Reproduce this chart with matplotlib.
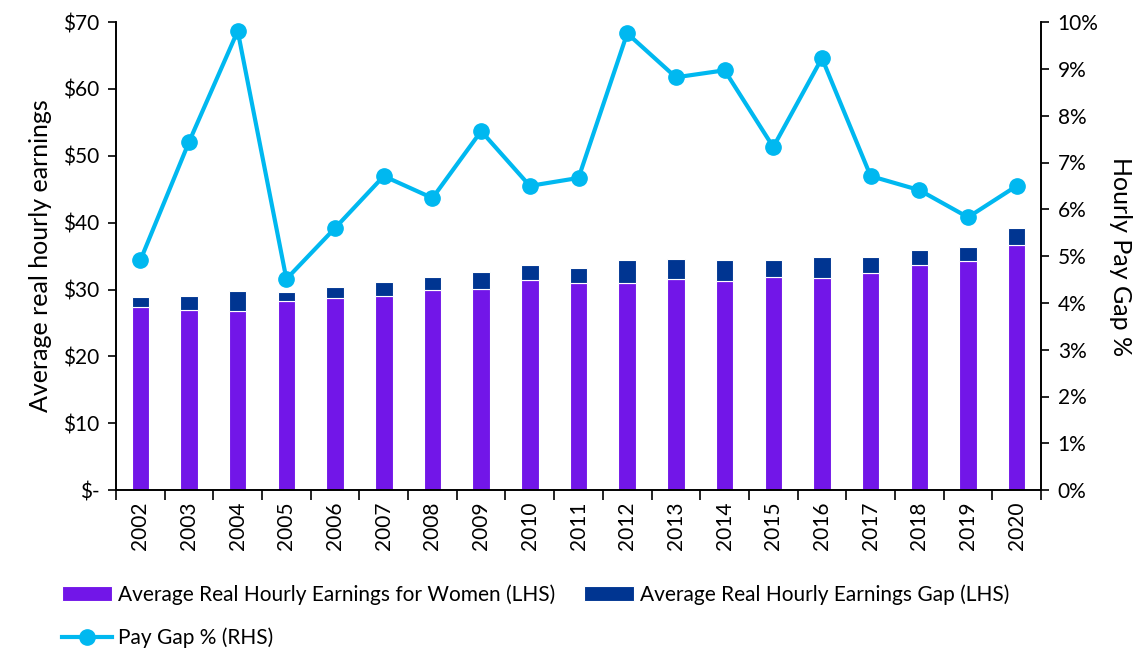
import matplotlib
matplotlib.use("Agg")
import matplotlib.pyplot as plt
import numpy as np
from matplotlib.ticker import FuncFormatter, FixedLocator

plt.rcParams["font.family"] = ["Lato", "DejaVu Sans"]

YEARS = [str(y) for y in range(2002, 2021)]
WOMEN = [27.4, 26.9, 26.8, 28.3, 28.7, 29.1, 30.0, 30.1, 31.5, 31.0,
         31.0, 31.6, 31.3, 31.9, 31.7, 32.5, 33.6, 34.2, 36.7]
TOTAL = [28.9, 29.1, 29.8, 29.7, 30.4, 31.2, 31.9, 32.6, 33.7, 33.2,
         34.4, 34.6, 34.4, 34.4, 34.9, 34.9, 35.9, 36.4, 39.2]
GAP = [t - w for t, w in zip(TOTAL, WOMEN)]
PAY_GAP = [4.91, 7.44, 9.81, 4.51, 5.60, 6.71, 6.24, 7.67, 6.50, 6.67,
           9.76, 8.82, 8.97, 7.33, 9.23, 6.71, 6.41, 5.83, 6.50]   # %

C_WOMEN = "#7216E8"
C_GAP = "#003591"
C_LINE = "#00B8F0"

fig = plt.figure(figsize=(11.44, 6.5), dpi=100)
ax = fig.add_axes([0.1014, 0.246, 0.8086, 0.72])
ax2 = ax.twinx()

x = np.arange(len(YEARS))
w = 0.36
b1 = ax.bar(x, WOMEN, w, color=C_WOMEN, edgecolor="white", linewidth=0.8,
            label="Average Real Hourly Earnings for Women (LHS)")
b2 = ax.bar(x, GAP, w, bottom=WOMEN, color=C_GAP, edgecolor="white", linewidth=0.8,
            label="Average Real Hourly Earnings Gap (LHS)")
ln, = ax2.plot(x, PAY_GAP, color=C_LINE, lw=3, marker="o", ms=11,
               label="Pay Gap % (RHS)")

ax.set_xlim(-0.5, len(YEARS) - 0.5)
ax.set_ylim(0, 70)
ax.set_yticks(range(0, 71, 10))
ax.yaxis.set_major_formatter(FuncFormatter(lambda v, p: "$-" if v == 0 else f"${v:.0f}"))
ax2.set_ylim(0, 10)
ax2.set_yticks(range(0, 11))
ax2.yaxis.set_major_formatter(FuncFormatter(lambda v, p: f"{v:.0f}%"))

ax.set_xticks(x)
ax.set_xticklabels(YEARS, rotation=90)
ax.tick_params(axis="x", length=0, pad=8, labelsize=15)
ax.xaxis.set_minor_locator(FixedLocator(np.arange(-0.5, len(YEARS), 1.0)))
ax.tick_params(axis="x", which="minor", length=7, width=1.2, direction="out")
ax.tick_params(axis="y", length=6, width=1.2, labelsize=15, pad=6)
ax2.tick_params(axis="y", length=6, width=1.2, labelsize=15, pad=6)

for a in (ax, ax2):
    a.spines["top"].set_visible(False)
    for s in ("left", "right", "bottom"):
        a.spines[s].set_linewidth(1.2)

ax.set_ylabel("Average real hourly earnings", fontsize=18, labelpad=8)
ax2.set_ylabel("Hourly Pay Gap %", fontsize=18, rotation=270, labelpad=24)

fig.legend([b1, ln, b2], [b1.get_label(), ln.get_label(), b2.get_label()],
           loc="lower left", bbox_to_anchor=(0.038, -0.026), ncol=2, frameon=False,
           fontsize=15, handlelength=2.4, handletextpad=0.3, columnspacing=1.35,
           labelspacing=1.1)

fig.savefig("out.png", dpi=100)
